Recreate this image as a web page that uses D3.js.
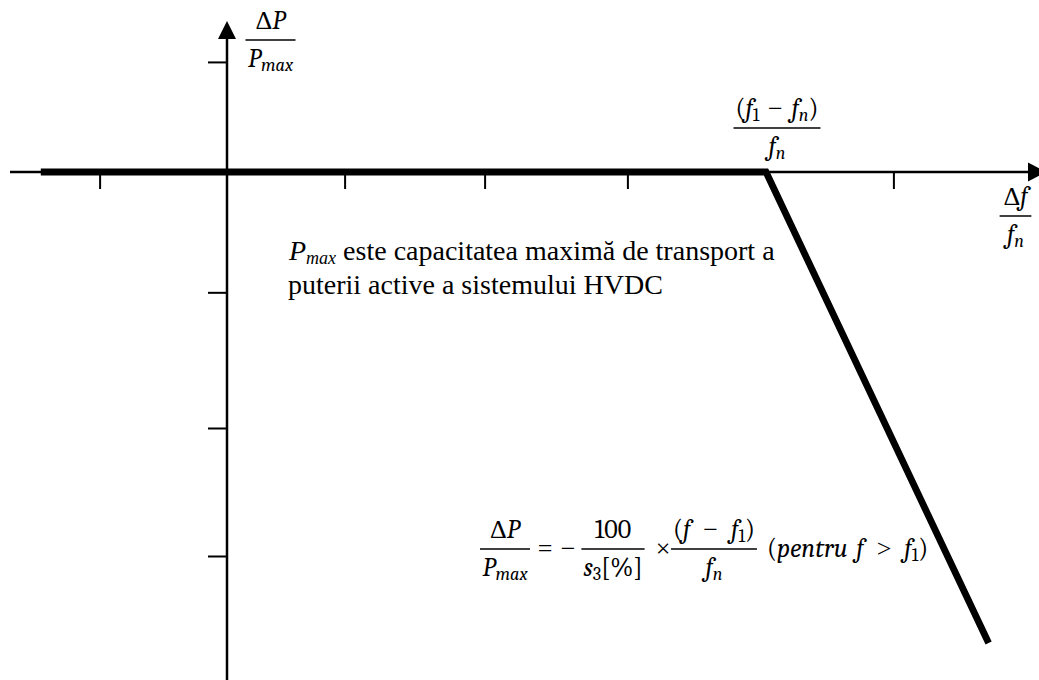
<!DOCTYPE html>
<html>
<head>
<meta charset="utf-8">
<script src="https://cdn.jsdelivr.net/npm/d3@7"></script>
<style>
  html, body { margin: 0; padding: 0; background: #fff; overflow: hidden; }
  svg { display: block; }
</style>
</head>
<body>
<svg id="chart" width="1039" height="680"></svg>
<script>
// Frequency droop characteristic of the HVDC active-power control (per-unit axes)
const xTicks = [-0.91, 0.84, 1.84, 2.86, 4.76];   // Δf/fn tick marks
const yTicks = [0.86, -0.94, -2, -3];             // ΔP/Pmax tick marks
const droopX = [-1.33, 3.85, 5.44];               // Δf/fn at the characteristic's vertices
const droopY = [0, 0, -3.68];                     // ΔP/Pmax at the same vertices
const xExtent = [-1.55, 5.85];                    // horizontal axis span (arrow tip at the end)
const yExtent = [-3.99, 1.18];                    // vertical axis span (arrow tip at the end)

const MATH_FONT = '"Caladea", "Cambria", serif';
const TEXT_FONT = '"Liberation Serif", "Times New Roman", serif';
const MATH_SIZE = 26;
const INK = "#000";
const OP_GAP = "\u2002";        // spacing around binary operators
const OP_GAP_TIGHT = "\u2004";  // slightly narrower variant

const svg = d3.select("#chart");

const x = d3.scaleLinear().domain([0, 1]).range([227, 367]);
const y = d3.scaleLinear().domain([0, 1]).range([172, 44]);

// ---- axes -------------------------------------------------------------
const axes = svg.append("g");
const ARROW = 18;

axes.append("line")
  .attr("x1", x(xExtent[0])).attr("x2", x(xExtent[1]) - ARROW + 2)
  .attr("y1", y(0)).attr("y2", y(0))
  .attr("stroke", INK).attr("stroke-width", 2.7);
axes.append("path")
  .attr("d", `M${x(xExtent[1])},${y(0)} L${x(xExtent[1]) - ARROW},${y(0) - 9.5} L${x(xExtent[1]) - ARROW},${y(0) + 9.5} Z`)
  .attr("fill", INK);

axes.append("line")
  .attr("x1", x(0)).attr("x2", x(0))
  .attr("y1", y(yExtent[0])).attr("y2", y(yExtent[1]) + ARROW - 2)
  .attr("stroke", INK).attr("stroke-width", 2.5);
axes.append("path")
  .attr("d", `M${x(0)},${y(yExtent[1])} L${x(0) - 9},${y(yExtent[1]) + ARROW} L${x(0) + 9},${y(yExtent[1]) + ARROW} Z`)
  .attr("fill", INK);

const xAxis = svg.append("g")
  .attr("transform", `translate(0,${y(0)})`)
  .call(d3.axisBottom(x).tickValues(xTicks).tickSize(17).tickFormat(""));
xAxis.select(".domain").remove();
xAxis.selectAll(".tick line").attr("stroke", INK).attr("stroke-width", 2);

const yAxis = svg.append("g")
  .attr("transform", `translate(${x(0)},0)`)
  .call(d3.axisLeft(y).tickValues(yTicks).tickSize(19).tickFormat(""));
yAxis.select(".domain").remove();
yAxis.selectAll(".tick line").attr("stroke", INK).attr("stroke-width", 2);

// ---- droop characteristic --------------------------------------------
const droop = droopX.map((v, i) => [v, droopY[i]]);
svg.append("path")
  .datum(droop)
  .attr("d", d3.line().x(d => x(d[0])).y(d => y(d[1])))
  .attr("fill", "none")
  .attr("stroke", INK)
  .attr("stroke-width", 6.8)
  .attr("stroke-linejoin", "miter");

// ---- math typesetting helpers ----------------------------------------
// part flags: i = italic, s = subscript, o = operator glyph
const SUB_DY = 4;
function mathText(g, px, py, parts, anchor, size) {
  size = size || MATH_SIZE;
  const t = g.append("text")
    .attr("x", px).attr("y", py)
    .attr("text-anchor", anchor || "middle")
    .attr("fill", INK)
    .style("font-family", MATH_FONT)
    .style("font-size", size + "px")
    .style("white-space", "pre");
  let shifted = 0;
  parts.forEach(p => {
    const ts = t.append("tspan").text(p.t)
      .style("font-style", p.i ? "italic" : "normal");
    const want = p.s ? SUB_DY : 0;
    if (want !== shifted) { ts.attr("dy", want - shifted); shifted = want; }
    if (p.s) ts.style("font-size", (size * 0.7) + "px");
    if (p.o) ts.style("font-family", TEXT_FONT).style("font-size", size + "px");
  });
  return t;
}

function frac(g, cx, barY, num, den) {
  const n = mathText(g, cx, barY - 11, num);
  const d = mathText(g, cx, barY + 27, den);
  const w = Math.max(n.node().getBBox().width, d.node().getBBox().width) + 4;
  g.append("line")
    .attr("x1", cx - w / 2).attr("x2", cx + w / 2)
    .attr("y1", barY).attr("y2", barY)
    .attr("stroke", INK).attr("stroke-width", 1.7);
}

const minus = {t: OP_GAP + "−" + OP_GAP, o: 1};
const minusTight = {t: OP_GAP_TIGHT + "−" + OP_GAP_TIGHT, o: 1};
const labels = svg.append("g");

// axis titles
frac(labels, 270.5, 40,
  [{t: "Δ"}, {t: "P", i: 1}],
  [{t: "P", i: 1}, {t: "max", i: 1, s: 1}]);

frac(labels, 1015.5, 216,
  [{t: "Δ"}, {t: "f", i: 1}],
  [{t: "f", i: 1}, {t: "n", i: 1, s: 1}]);

// breakpoint of the characteristic
frac(labels, 777, 128,
  [{t: "("}, {t: "f", i: 1}, {t: "1", s: 1}, minusTight, {t: "f", i: 1}, {t: "n", i: 1, s: 1}, {t: ")"}],
  [{t: "f", i: 1}, {t: "n", i: 1, s: 1}]);

// droop equation
const eqBar = 549, eqBase = 557;
frac(labels, 505, eqBar,
  [{t: "Δ"}, {t: "P", i: 1}],
  [{t: "P", i: 1}, {t: "max", i: 1, s: 1}]);
mathText(labels, 545, eqBase, [{t: "=", o: 1}]);
mathText(labels, 568, eqBase, [{t: "−", o: 1}]);
frac(labels, 613, eqBar,
  [{t: "100"}],
  [{t: "s", i: 1}, {t: "3", s: 1}, {t: "[%]"}]);
mathText(labels, 663, eqBase, [{t: "×", o: 1}]);
frac(labels, 714, eqBar,
  [{t: "("}, {t: "f", i: 1}, minus, {t: "f", i: 1}, {t: "1", s: 1}, {t: ")"}],
  [{t: "f", i: 1}, {t: "n", i: 1, s: 1}]);
mathText(labels, 767, eqBase,
  [{t: "("}, {t: "pentru\u2004", i: 1}, {t: "f", i: 1}, {t: OP_GAP + ">" + OP_GAP, o: 1}, {t: "f", i: 1}, {t: "1", s: 1}, {t: ")"}],
  "start");

// explanatory note
const note = labels.append("text")
  .attr("x", 289).attr("y", 259.5)
  .attr("fill", INK)
  .style("font-family", TEXT_FONT).style("font-size", "28px")
  .style("white-space", "pre");
note.append("tspan").text("P").style("font-style", "italic");
note.append("tspan").text("max").style("font-style", "italic")
  .style("font-size", "18px").attr("dy", 4);
note.append("tspan").text(" este capacitatea maximă de transport a").attr("dy", -4);

labels.append("text")
  .attr("x", 288).attr("y", 294)
  .attr("fill", INK)
  .style("font-family", TEXT_FONT).style("font-size", "28px")
  .text("puterii active a sistemului HVDC");
</script>
</body>
</html>
